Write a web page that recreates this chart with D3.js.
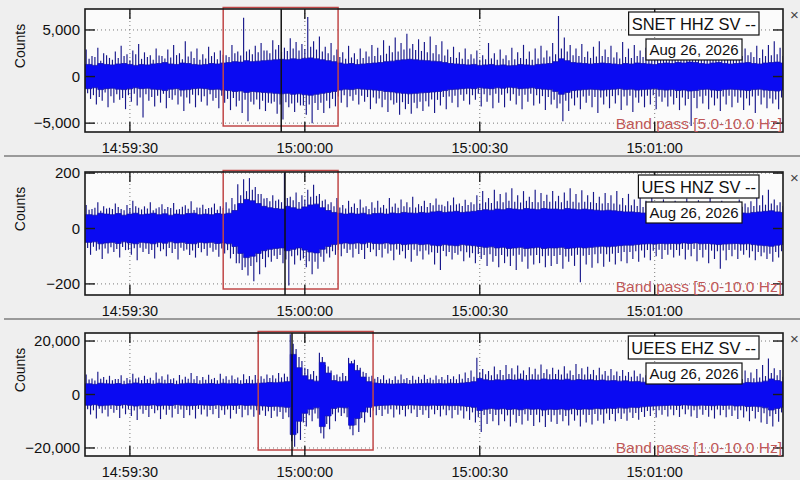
<!DOCTYPE html>
<html><head><meta charset="utf-8">
<script src="https://cdn.jsdelivr.net/npm/d3@7"></script>
<style>body{margin:0;background:#efefef;}svg{display:block;font-family:"Liberation Sans",Arial,sans-serif;}</style>
</head><body>
<script>
// ---- data (1-second bins starting 14:59:22.5 UTC, Aug 26 2026) ----
const stationLabels = ["SNET HHZ SV --", "UES HNZ SV --", "UEES EHZ SV --"];
const dateLabel = "Aug 26, 2026";
const filterLabels = ["Band pass [5.0-10.0 Hz]", "Band pass [5.0-10.0 Hz]", "Band pass [1.0-10.0 Hz]"];
const yTickValues = [[-5000, 0, 5000], [-200, 0, 200], [-20000, 0, 20000]];
const yDomains = [[-5950, 7250], [-240, 204], [-23000, 23000]];
const xTickLabels = ["14:59:30", "15:00:00", "15:00:30", "15:01:00"];
const pickOffsets = [-4.05, -3.4, -2.2];          // seconds from 15:00:00
const windowOffsets = [[-14.0, 5.7], [-14.0, 5.7], [-8.0, 11.7]];

// SNET HHZ
const snetHi = [2900,2200,3100,2500,2000,2700,3300,2400,2800,3500, 2600,2300,3000,2200,2900,3400,2500,3800,2700,3000,
  2400,3200,2600,2800,2300,3400,2700,6300,2900,3300, 3600,2800,3900,3400,3100,4100,3700,3500,6400,3800,
  4300,3200,3600,2900,2600,3300,2500,3000,2700,3400, 3100,3900,3300,4200,3600,4600,3500,4000,3700,4300,
  3400,3800,2900,3200,2600,3000,2400,2800,2300,3600, 2500,2900,2300,3100,2600,3400,2700,3000,3300,2800,
  3600,6500,4200,3400,3000,3500,2700,3200,3800,2900, 3300,2600,3700,3000,3400,2800,3100,3600,2700,3200,
  2900,3500,3000,2600,3300,2800,3400,3000,3700,2900, 3200,2700,3500,3000,2600,3300,2900,3400,3800,3100];
const snetLo = [-2400,-3000,-2600,-3300,-2800,-2500,-3500,-2700,-3100,-4400, -2600,-3200,-2800,-3400,-2500,-3000,-3700,-2900,-3300,-2700,
  -3100,-2600,-3400,-2800,-3600,-3200,-3900,-4800,-3000,-3500, -3700,-2900,-4000,-4600,-3300,-3800,-3100,-4100,-5000,-3600,
  -3900,-3400,-3200,-2800,-3300,-2600,-3000,-2700,-3500,-2900, -3300,-3800,-3000,-4100,-3500,-4000,-3400,-3700,-3200,-3900,
  -3100,-3500,-2800,-3300,-2600,-3000,-2500,-3200,-2700,-3400, -2800,-3300,-2600,-3000,-3500,-2700,-3100,-2900,-3600,-3000,
  -3400,-4800,-3700,-3100,-3500,-2800,-3300,-3900,-3000,-3400, -2900,-3600,-3100,-3800,-2800,-3300,-3000,-3500,-2700,-3200,
  -3000,-3600,-3100,-5300,-3400,-2900,-3500,-3100,-3700,-3000, -3300,-2800,-3600,-3100,-3900,-3000,-3400,-2900,-3500,-3200];
const snetHi2 = [1900,2100,1700,2300,1800,2000,2200,1750,2400,1900, 2100,1800,2250,1950,2050,2300,1850,2150,2000,1800,
  1950,2200,1850,2350,2100,2500,2250,2700,2400,2600, 2800,2500,2900,2650,2750,3000,2800,2950,3200,2900,
  2700,2500,2300,2100,1900,2050,1850,2000,2150,2200, 2300,2450,2600,2700,2900,3000,2850,2750,2600,2500,
  2400,2250,2100,2000,1900,1850,1950,1800,1850,1950, 1800,1900,1750,1850,2000,1900,1800,1950,2050,2150,
  2400,3000,2700,2300,2200,2100,2000,2150,2200,2100, 2050,1950,2100,2000,2200,2100,2000,1950,2100,2200,
  2100,2250,2200,2350,2250,2100,2000,2200,2300,2100, 2000,2100,2200,2300,2100,2000,2200,2300,2400,2200];
const snetLo2 = [-1800,-2000,-2200,-1700,-2100,-1900,-2300,-2000,-1850,-2250, -1900,-2200,-2050,-1850,-2300,-2000,-2150,-2250,-1950,-2000,
  -2100,-1900,-2300,-2050,-2400,-2300,-2600,-2500,-2700,-2450, -2600,-2800,-2700,-3000,-2750,-2900,-2800,-3100,-3000,-2850,
  -2800,-2600,-2400,-2150,-2000,-2100,-1950,-2050,-2200,-2250, -2350,-2500,-2550,-2800,-2750,-2950,-2800,-2700,-2650,-2450,
  -2500,-2200,-2150,-2050,-1950,-1900,-2000,-1850,-1900,-2000, -1850,-1950,-1800,-1900,-2050,-1950,-1850,-2000,-2100,-2200,
  -2500,-2900,-2600,-2350,-2250,-2150,-2050,-2200,-2250,-2150, -2100,-2000,-2150,-2050,-2250,-2150,-2050,-2000,-2150,-2250,
  -2150,-2300,-2250,-2400,-2300,-2150,-2050,-2250,-2350,-2150, -2050,-2150,-2250,-2350,-2150,-2050,-2250,-2350,-2450,-2250];
const snetCore = [1300,1200,1400,1300,1250,1350,1400,1300,1200,1300, 1250,1350,1400,1500,1350,1300,1450,1400,1300,1250,
  1300,1400,1350,1450,1500,1600,1550,1700,1600,1650, 1700,1750,1800,1850,1800,1900,1850,1950,2000,1900,
  1800,1700,1600,1450,1350,1400,1300,1350,1400,1450, 1500,1600,1650,1750,1800,1850,1800,1750,1700,1650,
  1600,1500,1400,1350,1300,1250,1300,1200,1250,1300, 1200,1250,1150,1200,1300,1250,1200,1300,1350,1400,
  1600,1900,1700,1500,1450,1400,1350,1400,1450,1400, 1350,1300,1400,1350,1450,1400,1350,1300,1400,1450,
  1400,1500,1450,1550,1500,1400,1350,1450,1500,1400, 1350,1400,1450,1500,1400,1350,1450,1500,1550,1450];

// UES HNZ
const uesHi = [85,70,95,80,75,90,70,85,100,75, 80,95,72,88,78,92,70,84,98,76,
  86,74,90,80,95,110,160,178,182,150, 125,110,120,105,200,115,130,120,140,158,
  125,105,95,110,85,100,90,105,80,95, 100,85,110,90,105,95,115,88,100,92,
  108,86,98,112,90,104,95,120,135,110, 140,125,130,145,120,135,115,140,128,122,
  135,118,130,145,125,138,120,132,115,128, 120,135,110,125,105,115,100,110,95,105,
  90,100,95,108,88,102,96,110,92,100, 95,85,105,90,98,110,120,140,105,95];
const uesLo = [-95,-80,-110,-90,-85,-105,-78,-95,-115,-85, -92,-108,-82,-100,-88,-112,-80,-96,-105,-86,
  -98,-84,-102,-90,-108,-125,-150,-170,-190,-165, -140,-120,-110,-125,-206,-130,-115,-140,-165,-145,
  -120,-105,-95,-100,-88,-105,-92,-110,-85,-100, -105,-90,-115,-95,-108,-120,-98,-112,-94,-130,
  -150,-100,-112,-95,-118,-105,-125,-110,-135,-120, -140,-125,-135,-150,-120,-145,-130,-125,-140,-135,
  -128,-145,-120,-135,-194,-130,-142,-125,-138,-120, -130,-118,-125,-110,-120,-105,-115,-100,-110,-95,
  -105,-98,-112,-100,-118,-105,-125,-110,-145,-115, -100,-110,-95,-105,-115,-100,-110,-120,-105,-98];
const uesHi2 = [68,75,64,72,70,78,66,74,80,69, 72,66,77,70,74,68,79,71,67,75,
  70,76,68,74,72,88,120,135,140,125, 108,98,100,95,110,102,96,105,115,118,
  100,88,80,76,72,78,74,76,70,75, 76,72,79,75,80,77,76,81,78,84,
  86,80,84,87,81,85,88,90,95,92, 98,95,100,97,94,100,96,95,99,97,
  98,95,100,97,94,97,95,92,90,92, 90,87,84,84,81,78,77,79,76,77,
  76,77,73,76,73,77,76,79,81,78, 77,76,79,77,81,84,86,90,84,81];
const uesLo2 = [-70,-66,-76,-72,-68,-74,-67,-77,-71,-69, -73,-78,-68,-75,-70,-74,-69,-76,-79,-70,
  -74,-69,-77,-72,-78,-92,-125,-140,-135,-122, -110,-104,-98,-96,-112,-100,-97,-108,-118,-120,
  -102,-90,-82,-78,-73,-77,-73,-78,-70,-76, -78,-73,-80,-76,-82,-78,-77,-82,-79,-86,
  -88,-81,-85,-88,-82,-86,-89,-92,-96,-93, -99,-96,-101,-98,-95,-101,-97,-96,-100,-98,
  -99,-96,-101,-98,-95,-98,-96,-93,-91,-93, -91,-88,-85,-85,-82,-79,-78,-80,-77,-78,
  -77,-78,-74,-77,-74,-78,-77,-80,-82,-79, -78,-77,-80,-78,-82,-85,-87,-91,-85,-82];
const uesCore = [50,48,55,52,50,54,48,52,55,50, 52,55,50,53,48,52,50,54,55,50,
  52,50,54,52,55,65,90,105,100,90, 80,75,72,70,80,75,70,78,85,88,
  75,65,58,55,52,55,52,55,50,54, 55,52,56,54,58,56,55,58,56,60,
  62,58,60,62,58,60,62,65,68,66, 70,68,72,70,68,72,70,68,72,70,
  70,68,72,70,68,70,68,66,64,66, 64,62,60,60,58,56,55,56,54,55,
  54,55,52,54,52,55,54,56,58,56, 55,54,56,55,58,60,62,64,60,58];

// UEES EHZ
const ueesHi = [7500,6000,8500,6500,7000,5800,7200,6200,7800,6400, 7000,6300,8200,6800,7500,6100,7300,6600,8000,6900,
  6500,7400,6200,7800,6800,7100,6400,7600,6900,7300, 6800,7500,7200,8000,7800,22500,17000,12500,9500,8800,
  15600,11000,9000,7500,8000,13700,13000,10000,8000,7000, 6500,7200,6000,6800,7500,6200,7000,6600,7400,6300,
  7100,6500,7300,6800,7600,8200,9000,13700,9500,8800, 10500,9200,11000,9800,10800,9000,10200,9600,11200,9400,
  10000,9300,10600,9000,11400,9800,10400,9200,10000,8800, 9500,8600,9200,8400,9000,7800,7200,7800,6800,7400,
  7000,7600,6600,7200,8000,6800,7400,7900,6900,7500, 7100,8300,7600,9000,8200,9500,11000,13500,9800,9200];
const ueesLo = [-7500,-9000,-7000,-8200,-6800,-8800,-7400,-8000,-9500,-7200, -8400,-7000,-9200,-7600,-8600,-7300,-8800,-7800,-9000,-7500,
  -8200,-7400,-8800,-7600,-9000,-7200,-8500,-7800,-8300,-7600, -8000,-8800,-8200,-9200,-8500,-19500,-17000,-12000,-10000,-9000,
  -16500,-13000,-10000,-8000,-8500,-15200,-14000,-10500,-8500,-7800, -8000,-7200,-8600,-7500,-8200,-7000,-8400,-7600,-8800,-7400,
  -8200,-7800,-8900,-7600,-9000,-9500,-10500,-14000,-11000,-10000, -11500,-10000,-12000,-10600,-11200,-9800,-11800,-10400,-12200,-10200,
  -11000,-10000,-11600,-9800,-12000,-10500,-11200,-9800,-10800,-9500, -10000,-9200,-9800,-8800,-9400,-8400,-8000,-8600,-7600,-8200,
  -7800,-8400,-7400,-8200,-8800,-7600,-8300,-9000,-7800,-8500, -8000,-9200,-8600,-10000,-9000,-10500,-11000,-12000,-10200,-9600];
const ueesHi2 = [5600,5200,5900,5500,5300,5800,5100,5600,6000,5400, 5700,5300,5900,5500,5700,5200,5600,5900,5700,5300,
  5500,5700,5300,5900,5500,5700,5300,5700,5500,5800, 5900,6200,6000,6400,6600,19000,14000,10000,7600,7000,
  14000,10500,7200,6600,6900,12500,11000,8500,6600,5900, 5700,5500,5400,5500,5700,5400,5500,5700,5800,5500,
  5700,5500,5800,5700,5900,6200,6600,8300,7600,7200, 7600,7300,7700,7500,7900,7300,7600,7500,8000,7600,
  7700,7500,7900,7300,7700,7500,7600,7200,7500,7000, 7200,6900,7000,6600,6800,6400,6100,5900,5800,5700,
  5500,5700,5400,5500,5800,5500,5700,5800,5500,5700, 5500,5900,5800,6200,6100,6400,6900,8000,7200,6600];
const ueesLo2 = [-5500,-5900,-5300,-5700,-5400,-5800,-5200,-5600,-6000,-5500, -5800,-5400,-5900,-5600,-5700,-5300,-5600,-5800,-5700,-5400,
  -5600,-5800,-5400,-5900,-5600,-5800,-5400,-5700,-5600,-5900, -6000,-6300,-6100,-6500,-6700,-17500,-14500,-10500,-7800,-7100,
  -14500,-11000,-7400,-6700,-7000,-13000,-11500,-8800,-6800,-6000, -5800,-5600,-5500,-5600,-5800,-5500,-5600,-5800,-5900,-5600,
  -5800,-5600,-5900,-5800,-6000,-6300,-6700,-8500,-7700,-7300, -7700,-7400,-7800,-7600,-8000,-7400,-7700,-7600,-8100,-7700,
  -7800,-7600,-8000,-7400,-7800,-7600,-7700,-7300,-7600,-7100, -7300,-7000,-7100,-6700,-6900,-6500,-6200,-6000,-5900,-5800,
  -5600,-5800,-5500,-5600,-5900,-5600,-5800,-5900,-5600,-5800, -5600,-6000,-5900,-6300,-6200,-6500,-7000,-8100,-7300,-6700];
const ueesCore = [4000,3800,4200,4000,3900,4100,3800,4000,4300,4000, 4100,3900,4200,4000,4100,3800,4000,4200,4100,3900,
  4000,4100,3900,4200,4000,4100,3900,4100,4000,4200, 4300,4500,4400,4600,4800,15000,10000,7000,5500,5000,
  12000,8000,5200,4800,5000,11500,9000,6500,4800,4300, 4100,4000,3900,4000,4100,3900,4000,4100,4200,4000,
  4100,4000,4200,4100,4300,4500,4800,6000,5500,5200, 5500,5300,5600,5400,5700,5300,5500,5400,5800,5500,
  5600,5400,5700,5300,5600,5400,5500,5200,5400,5100, 5200,5000,5100,4800,4900,4600,4400,4300,4200,4100,
  4000,4100,3900,4000,4200,4000,4100,4200,4000,4100, 4000,4300,4200,4500,4400,4600,5000,5800,5200,4800];

// ---- drawing ----
const W = 800, H = 480;
const ref = Date.UTC(2026, 7, 26, 15, 0, 0);
const sec = s => new Date(ref + s * 1000);
const binStart = -37.5;
const xDomain = [sec(-37.7), sec(82.0)];
const L = 85, R = 783, PH = 123;

const svg = d3.select("body").append("svg").attr("width", W).attr("height", H);
svg.append("rect").attr("width", W).attr("height", H).attr("fill", "#efefef");

const panels = [
  {hi: snetHi, lo: snetLo, hi2: snetHi2, lo2: snetLo2, core: snetCore, top: 9},
  {hi: uesHi, lo: uesLo, hi2: uesHi2, lo2: uesLo2, core: uesCore, top: 172},
  {hi: ueesHi, lo: ueesLo, hi2: ueesHi2, lo2: ueesLo2, core: ueesCore, top: 333}
];

[156, 319].forEach(yy => svg.append("line").attr("x1", 4).attr("x2", W).attr("y1", yy).attr("y2", yy)
  .attr("stroke", "#9a9a9a").attr("stroke-width", 2));

panels.forEach((p, k) => {
  const x = d3.scaleUtc().domain(xDomain).range([L, R]);
  const y = d3.scaleLinear().domain(yDomains[k]).range([p.top + PH, p.top]);
  const g = svg.append("g");
  const clipId = "clip" + k;
  svg.append("clipPath").attr("id", clipId).append("rect")
    .attr("x", L).attr("y", p.top).attr("width", R - L).attr("height", PH);

  g.append("rect").attr("x", L).attr("y", p.top).attr("width", R - L).attr("height", PH).attr("fill", "#fbfbfb");

  const xt = x.ticks(d3.utcSecond.every(30));
  const fmt = d3.utcFormat("%H:%M:%S");
  g.selectAll(".gx").data(xt).join("line")
    .attr("x1", d => x(d)).attr("x2", d => x(d)).attr("y1", p.top).attr("y2", p.top + PH)
    .attr("stroke", "#7a7a7a").attr("stroke-dasharray", "1,3");
  g.selectAll(".gy").data(yTickValues[k]).join("line")
    .attr("x1", L).attr("x2", R).attr("y1", d => y(d)).attr("y2", d => y(d))
    .attr("stroke", "#7a7a7a").attr("stroke-dasharray", "1,3");

  const trace = g.append("g").attr("clip-path", `url(#${clipId})`);
  const spikes = (arr, off) => trace.append("g").selectAll("line").data(arr).join("line")
    .attr("x1", (d, i) => x(sec(binStart + i + off))).attr("x2", (d, i) => x(sec(binStart + i + off)))
    .attr("y1", y(0)).attr("y2", d => y(d))
    .attr("stroke", "#17178a").attr("stroke-width", 1.15);
  spikes(p.hi, 0); spikes(p.lo2, 0.25); spikes(p.hi2, 0.5); spikes(p.lo, 0.75);

  const corePts = p.core.map((d, i) => ({t: sec(binStart + i + 0.5), v: d}));
  corePts.unshift({t: xDomain[0], v: p.core[0]});
  corePts.push({t: xDomain[1], v: p.core[p.core.length - 1]});
  trace.append("path").datum(corePts)
    .attr("d", d3.area().curve(d3.curveStep).x(d => x(d.t)).y0(d => y(-d.v)).y1(d => y(d.v)))
    .attr("fill", "#0a0af2").attr("stroke", "#1414b4").attr("stroke-width", 0.8);

  const w = windowOffsets[k];
  g.append("rect").attr("x", x(sec(w[0]))).attr("y", p.top - 1.5)
    .attr("width", x(sec(w[1])) - x(sec(w[0]))).attr("height", PH - 4.5)
    .attr("fill", "none").attr("stroke", "#c04848").attr("stroke-width", 1.5);
  g.append("line").attr("x1", x(sec(pickOffsets[k]))).attr("x2", x(sec(pickOffsets[k])))
    .attr("y1", p.top).attr("y2", p.top + PH).attr("stroke", "#111").attr("stroke-width", 1.5);

  g.append("rect").attr("x", L).attr("y", p.top).attr("width", R - L).attr("height", PH)
    .attr("fill", "none").attr("stroke", "#1a1a1a").attr("stroke-width", 1.6);
  const tl = 10;
  xt.forEach(d => {
    [[p.top, p.top + tl], [p.top + PH, p.top + PH - tl]].forEach(([a, b]) =>
      g.append("line").attr("x1", x(d)).attr("x2", x(d)).attr("y1", a).attr("y2", b)
        .attr("stroke", "#1a1a1a").attr("stroke-width", 1.4));
  });
  yTickValues[k].forEach(d => {
    [[L, L + tl], [R, R - tl]].forEach(([a, b]) =>
      g.append("line").attr("x1", a).attr("x2", b).attr("y1", y(d)).attr("y2", y(d))
        .attr("stroke", "#1a1a1a").attr("stroke-width", 1.4));
  });
  g.selectAll(".xl").data(xt).join("text")
    .attr("x", d => x(d)).attr("y", p.top + PH + 21).attr("text-anchor", "middle")
    .attr("font-size", 14.5).attr("fill", "#111").text((d, i) => xTickLabels[i] || fmt(d));
  g.selectAll(".yl").data(yTickValues[k]).join("text")
    .attr("x", 80).attr("y", d => y(d)).attr("dy", "0.35em").attr("text-anchor", "end")
    .attr("font-size", 15).attr("fill", "#111").text(d3.format(","));
  g.append("text").attr("transform", `translate(25,${p.top + 37}) rotate(-90)`)
    .attr("text-anchor", "middle").attr("font-size", 14).attr("fill", "#111").text("Counts");

  const t1 = g.append("text").attr("x", 756).attr("y", p.top + 20.5).attr("text-anchor", "end")
    .attr("font-size", 16.5).attr("fill", "#111").text(stationLabels[k]);
  const b1 = t1.node().getBBox();
  g.insert("rect", () => t1.node()).attr("x", b1.x - 3).attr("y", p.top + 3)
    .attr("width", b1.width + 6).attr("height", 23).attr("fill", "#fff").attr("stroke", "#111").attr("stroke-width", 1.2);
  const t2 = g.append("text").attr("x", 694).attr("y", p.top + 46).attr("text-anchor", "middle")
    .attr("font-size", 15).attr("fill", "#111").text(dateLabel);
  g.insert("rect", () => t2.node()).attr("x", 646).attr("y", p.top + 30)
    .attr("width", 96).attr("height", 21).attr("fill", "#fff").attr("stroke", "#111").attr("stroke-width", 1.2);
  g.append("text").attr("x", 782).attr("y", p.top + 120).attr("text-anchor", "end")
    .attr("font-size", 15.5).attr("fill", "#c05858").text(filterLabels[k]);
  svg.append("text").attr("x", 790).attr("y", p.top + 11).attr("font-size", 15).attr("fill", "#444").text("×");
});
</script>
</body></html>
